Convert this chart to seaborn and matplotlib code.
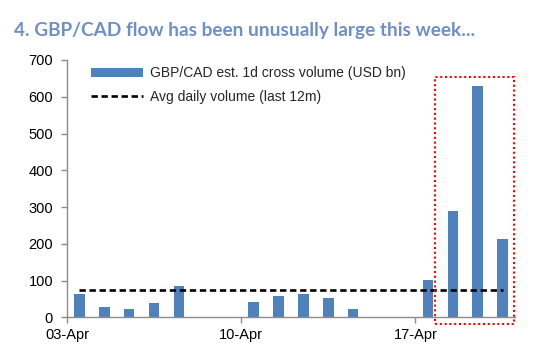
import matplotlib
matplotlib.use('Agg')
import matplotlib.pyplot as plt
import seaborn as sns
import pandas as pd
from matplotlib.patches import Rectangle

# DATA
all_days = ['03-Apr', '04-Apr', '05-Apr', '06-Apr', '07-Apr', '08-Apr', '09-Apr',
            '10-Apr', '11-Apr', '12-Apr', '13-Apr', '14-Apr', '15-Apr', '16-Apr',
            '17-Apr', '18-Apr', '19-Apr', '20-Apr']
trade_days = ['03-Apr', '04-Apr', '05-Apr', '06-Apr', '07-Apr',
              '10-Apr', '11-Apr', '12-Apr', '13-Apr', '14-Apr',
              '17-Apr', '18-Apr', '19-Apr', '20-Apr']
volume = [63, 29, 22, 40, 85, 41, 58, 63, 52, 22, 102, 290, 628, 213]
avg_daily = 75
tick_labels = ['03-Apr', '10-Apr', '17-Apr']

bar_label = 'GBP/CAD est. 1d cross volume (USD bn)'
avg_label = 'Avg daily volume (last 12m)'

df = pd.DataFrame({'day': trade_days, 'volume': volume})
avg_df = pd.DataFrame({'pos': range(len(all_days)), 'avg': [avg_daily] * len(all_days)})

sns.set_style('white')
plt.rcParams['font.family'] = ['Liberation Sans', 'DejaVu Sans']

fig = plt.figure(figsize=(5.58, 3.56), dpi=100)
ax = fig.add_axes([0.120, 0.1087, 0.803, 0.7228])

sns.barplot(data=df, x='day', y='volume', order=all_days, color='#4F81BD',
            saturation=1, width=0.42, linewidth=0, label=bar_label, ax=ax)
sns.lineplot(data=avg_df, x='pos', y='avg', color='black', linewidth=1.9,
             dashes=False, label=avg_label, ax=ax)
ax.lines[-1].set_dashes((2.4, 1.4))

ax.set_xlim(-0.5, len(all_days) - 0.5)
ax.set_ylim(0, 700)
ax.set_yticks(range(0, 701, 100))
ax.set_xticks([all_days.index(t) - 0.5 for t in tick_labels])
ax.set_xticklabels(tick_labels)
ax.set_xlabel('')
ax.set_ylabel('')

for s in ['top', 'right']:
    ax.spines[s].set_visible(False)
for s in ['left', 'bottom']:
    ax.spines[s].set_color('#8C8C8C')
    ax.spines[s].set_linewidth(1.0)
ax.tick_params(axis='both', colors='#8C8C8C', labelcolor='black', labelsize=10.5,
               length=4, width=1, direction='out', left=True, bottom=True)
ax.tick_params(axis='y', pad=6)
ax.tick_params(axis='x', pad=4)

# red dotted highlight box around this week's bars
ax.add_patch(Rectangle((14.77 - 0.5, -18), 3.19, 673, fill=False,
                       edgecolor='#FF0000', linestyle=(0, (1, 1.3)),
                       linewidth=1.5, clip_on=False, zorder=5))

handles, labels = ax.get_legend_handles_labels()
order = [labels.index(bar_label), labels.index(avg_label)]
ax.legend([handles[i] for i in order], [labels[i] for i in order],
          loc='upper left', bbox_to_anchor=(0.025, 1.025), frameon=False,
          fontsize=10, handlelength=3.8, handleheight=0.6,
          labelspacing=0.7, handletextpad=0.45)

fig.text(0.025, 0.915, '4. GBP/CAD flow has been unusually large this week...',
         fontsize=13.7, fontweight='bold', color='#6F8FC8', family='Lato',
         va='center', ha='left')

plt.savefig('out.png', dpi=100)
plt.close()
